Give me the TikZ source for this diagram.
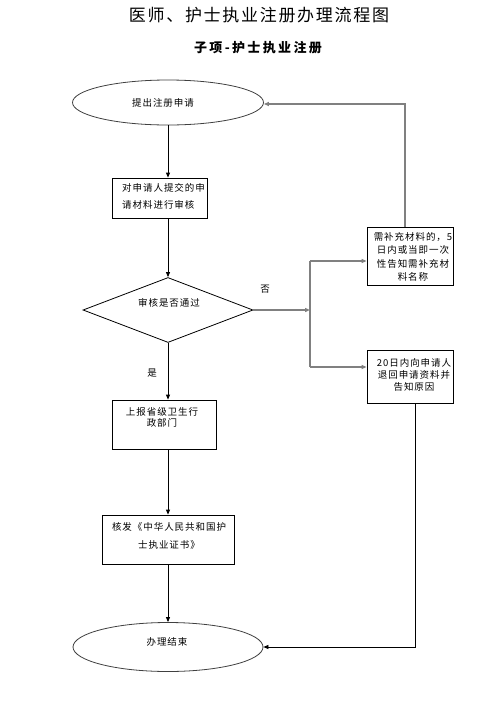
\documentclass[tikz,border=0pt]{standalone}
\usepackage{fontspec}
\usetikzlibrary{shapes.geometric,arrows.meta}
\newfontfamily\cjk[LetterSpace=10]{Noto Sans CJK SC}
\newfontfamily\cjksub[LetterSpace=18]{Noto Sans CJK SC}
\begin{document}
\begin{tikzpicture}[x=1pt,y=-1pt,
  box/.style={draw=black,line width=0.8pt,rectangle,inner sep=0pt},
  oval/.style={draw=black!75,line width=0.8pt,ellipse,inner sep=0pt},
  txt/.style={inner sep=0pt,align=center,font=\cjk\fontsize{9.5}{13}\selectfont},
  arr/.style={draw=black,line width=0.8pt,-{Triangle[length=5pt,width=4pt]}},
  gline/.style={draw=black!50,line width=1.5pt},
  garr/.style={gline,-{Triangle[length=5pt,width=4pt]}},
  bline/.style={draw=black,line width=0.8pt}]
\useasboundingbox[fill=white] (0,0) rectangle (491,710);

% titles
\node[inner sep=0pt,font=\cjk\fontsize{17}{20}\selectfont] (title) at (259,15) {医师、护士执业注册办理流程图};
\node[inner sep=0pt,font=\cjksub\bfseries\fontsize{13}{16}\selectfont] (subtitle) at (258,48) {子项-护士执业注册};

% shapes
\node[oval,minimum width=191pt,minimum height=45pt] (e1) at (168,102.5) {};
\node[txt] (e1t) at (163,103) {提出注册申请};

\node[box,minimum width=95pt,minimum height=40pt] (b1) at (159.5,198) {};
\node[txt,align=left,font=\cjk\fontsize{9.5}{17}\selectfont,anchor=west] (b1t) at (122,196.5) {对申请人提交的申\\请材料进行审核};

\node[draw=black,line width=0.8pt,diamond,inner sep=0pt,minimum width=170pt,minimum height=65pt] (d) at (168,310) {};
\node[txt] (dt) at (169,303) {审核是否通过};

\node[box,minimum width=86pt,minimum height=58pt] (b2) at (410,256) {};
\node[txt,font=\cjk\fontsize{9.5}{13.3}\selectfont] (b2t) at (413,257) {需补充材料的，5\\日内或当即一次\\性告知需补充材\\料名称};

\node[box,minimum width=86pt,minimum height=53pt] (b3) at (410,376.5) {};
\node[txt,font=\cjk\fontsize{9.5}{12}\selectfont] (b3t) at (414,375) {20日内向申请人\\退回申请资料并\\告知原因};

\node[box,minimum width=104pt,minimum height=49pt] (b4) at (164,424.5) {};
\node[txt,font=\cjk\fontsize{9.5}{11.5}\selectfont] (b4t) at (162,417.5) {上报省级卫生行\\政部门};

\node[box,minimum width=132pt,minimum height=49pt] (b5) at (168,539.5) {};
\node[txt,font=\cjk\fontsize{9.5}{18}\selectfont] (b5t) at (169,536) {核发《中华人民共和国护\\士执业证书》};

\node[oval,minimum width=190pt,minimum height=49pt] (e2) at (168,647) {};
\node[txt] (e2t) at (167,642) {办理结束};

% labels
\node[txt] (no) at (265,289) {否};
\node[txt] (yes) at (152,373) {是};

% connectors
\coordinate (j) at (310,310);
\coordinate (j1) at (310,261);
\coordinate (j2) at (310,367);
\coordinate (r1) at (405,104);
\coordinate (r2) at (415,647);

\draw[arr] (e1.south) -- (e1.south |- b1.north);
\draw[arr] (e1.south |- b1.south) -- (d.north);
\draw[garr] (d.east) -- (j);
\draw[gline] (j1) -- (j2);
\draw[garr] (j1) -- (j1 -| b2.west);
\draw[garr] (j2) -- (j2 -| b3.west);
\draw[garr] (r1 |- b2.north) -- (r1) -- (r1 -| e1.east);
\draw[arr] (r2 |- b3.south) -- (r2) -- (e2.east);
\draw[arr] (d.south) -- (d.south |- b4.north);
\draw[arr] (d.south |- b4.south) -- (d.south |- b5.north);
\draw[arr] (d.south |- b5.south) -- (e2.north);
\end{tikzpicture}
\end{document}
